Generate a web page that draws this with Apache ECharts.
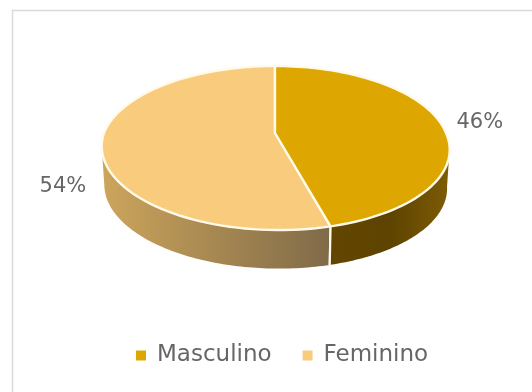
<!DOCTYPE html>
<html>
<head>
<meta charset="utf-8">
<style>html,body{margin:0;padding:0;background:#fff}#chart{width:532px;height:392px}</style>
<script src="https://cdn.jsdelivr.net/npm/echarts@6/dist/echarts.min.js"></script>
</head>
<body>
<div id="chart"></div>
<script>
const categories = ['Masculino', 'Feminino'];
const values = [46, 54];
const tickLabels = ['46%', '54%'];
const topColors = ['#DDA600', '#F9CB7C'];

// Perspective tilted disc: plane coordinates (x, y) with y pointing away from the viewer.
const view = {cx: 275, cy: 133, a: 171, b: 79.3, k: 0.183, lean: 4, depth: 40, shrink: 0.985};
const total = values.reduce((s, v) => s + v, 0);
// Angle at which the projected rim is widest; the wall is visible only between these two.
const rimAngle = Math.PI / 2 + Math.asin(view.k);

function project(angle, drop) {
  const x = Math.sin(angle), y = Math.cos(angle), d = 1 + view.k * y;
  const sx = view.a * x / d + view.lean * Math.max(0, -y), sy = -view.b * y / d;
  if (!drop) return [view.cx + sx, view.cy + sy];
  return [view.cx + sx * view.shrink, view.cy + sy * view.shrink + view.depth * (0.93 + 0.07 * (1 - y) / 2)];
}
function arc(from, to, drop) {
  const pts = [], n = 90;
  for (let i = 0; i <= n; i++) pts.push(project(from + (to - from) * i / n, drop));
  return pts;
}
function sliceRange(idx) {
  const before = values.slice(0, idx).reduce((s, v) => s + v, 0);
  return [before / total * Math.PI * 2, (before + values[idx]) / total * Math.PI * 2];
}

const wallFills = [
  new echarts.graphic.LinearGradient(0, 0, 1, 0, [
    {offset: 0, color: '#624600'}, {offset: 0.5, color: '#5E4300'}, {offset: 1, color: '#7D5C06'}
  ]),
  new echarts.graphic.LinearGradient(0, 0, 1, 0, [
    {offset: 0, color: '#CDA55C'}, {offset: 1, color: '#7F6A48'}
  ])
];
const labelSpots = [[39, -1], [-39, 43]];

function sliceRenderer(idx) {
  return function (params, api) {
    if (params.dataIndex !== 0) return;
    const [start, end] = sliceRange(idx);
    const children = [];
    const wallFrom = Math.max(start, rimAngle);
    const wallTo = Math.min(end, Math.PI * 2 - rimAngle);
    if (wallTo > wallFrom) {
      const pts = arc(wallFrom, wallTo, false).concat(arc(wallFrom, wallTo, true).reverse());
      children.push({
        type: 'polygon',
        shape: {points: pts},
        style: {fill: wallFills[idx], stroke: null}
      });
    }
    const topPts = [[view.cx, view.cy]].concat(arc(start, end, false));
    children.push({
      type: 'polygon',
      shape: {points: topPts},
      style: {fill: topColors[idx], stroke: '#FFFAEA', lineWidth: 2.4, lineJoin: 'round'}
    });
    // Seam on the wall under the slice boundary.
    const seamAngle = end > Math.PI ? start : end;
    const seamTop = project(seamAngle, false);
    const seamBot = project(seamAngle, true);
    children.push({
      type: 'line',
      shape: {x1: seamTop[0], y1: seamTop[1], x2: seamBot[0], y2: seamBot[1]},
      style: {stroke: '#FFFAEA', lineWidth: 2.2}
    });
    const mid = (start + end) / 2, p = project(mid, false), off = labelSpots[idx];
    children.push({
      type: 'text',
      style: {
        text: tickLabels[idx], x: p[0] + off[0], y: p[1] + off[1],
        align: 'center', verticalAlign: 'middle',
        font: '21px "DejaVu Sans"', fill: '#666666'
      }
    });
    return {type: 'group', children};
  };
}

const chart = echarts.init(document.getElementById('chart'), null, {renderer: 'canvas'});
chart.setOption({
  animation: false,
  backgroundColor: '#fff',
  legend: {
    data: categories,
    left: 131, top: 339,
    icon: 'rect', itemWidth: 10, itemHeight: 10, itemGap: 31,
    textStyle: {fontFamily: 'DejaVu Sans', fontSize: 23, color: '#666666', padding: [0, 0, 0, 6]}
  },
  graphic: [{
    type: 'rect', silent: true, z: -1,
    shape: {x: 12.5, y: 10.5, width: 530, height: 400},
    style: {fill: 'none', stroke: '#D9D9D9', lineWidth: 1.5}
  }],
  series: [
    // Feminino first so its wall sits under the Masculino seam.
    {type: 'custom', name: categories[1], coordinateSystem: 'none', itemStyle: {color: topColors[1]},
     renderItem: sliceRenderer(1), data: [values[1]]},
    {type: 'custom', name: categories[0], coordinateSystem: 'none', itemStyle: {color: topColors[0]},
     renderItem: sliceRenderer(0), data: [values[0]]}
  ]
});
</script>
</body>
</html>
